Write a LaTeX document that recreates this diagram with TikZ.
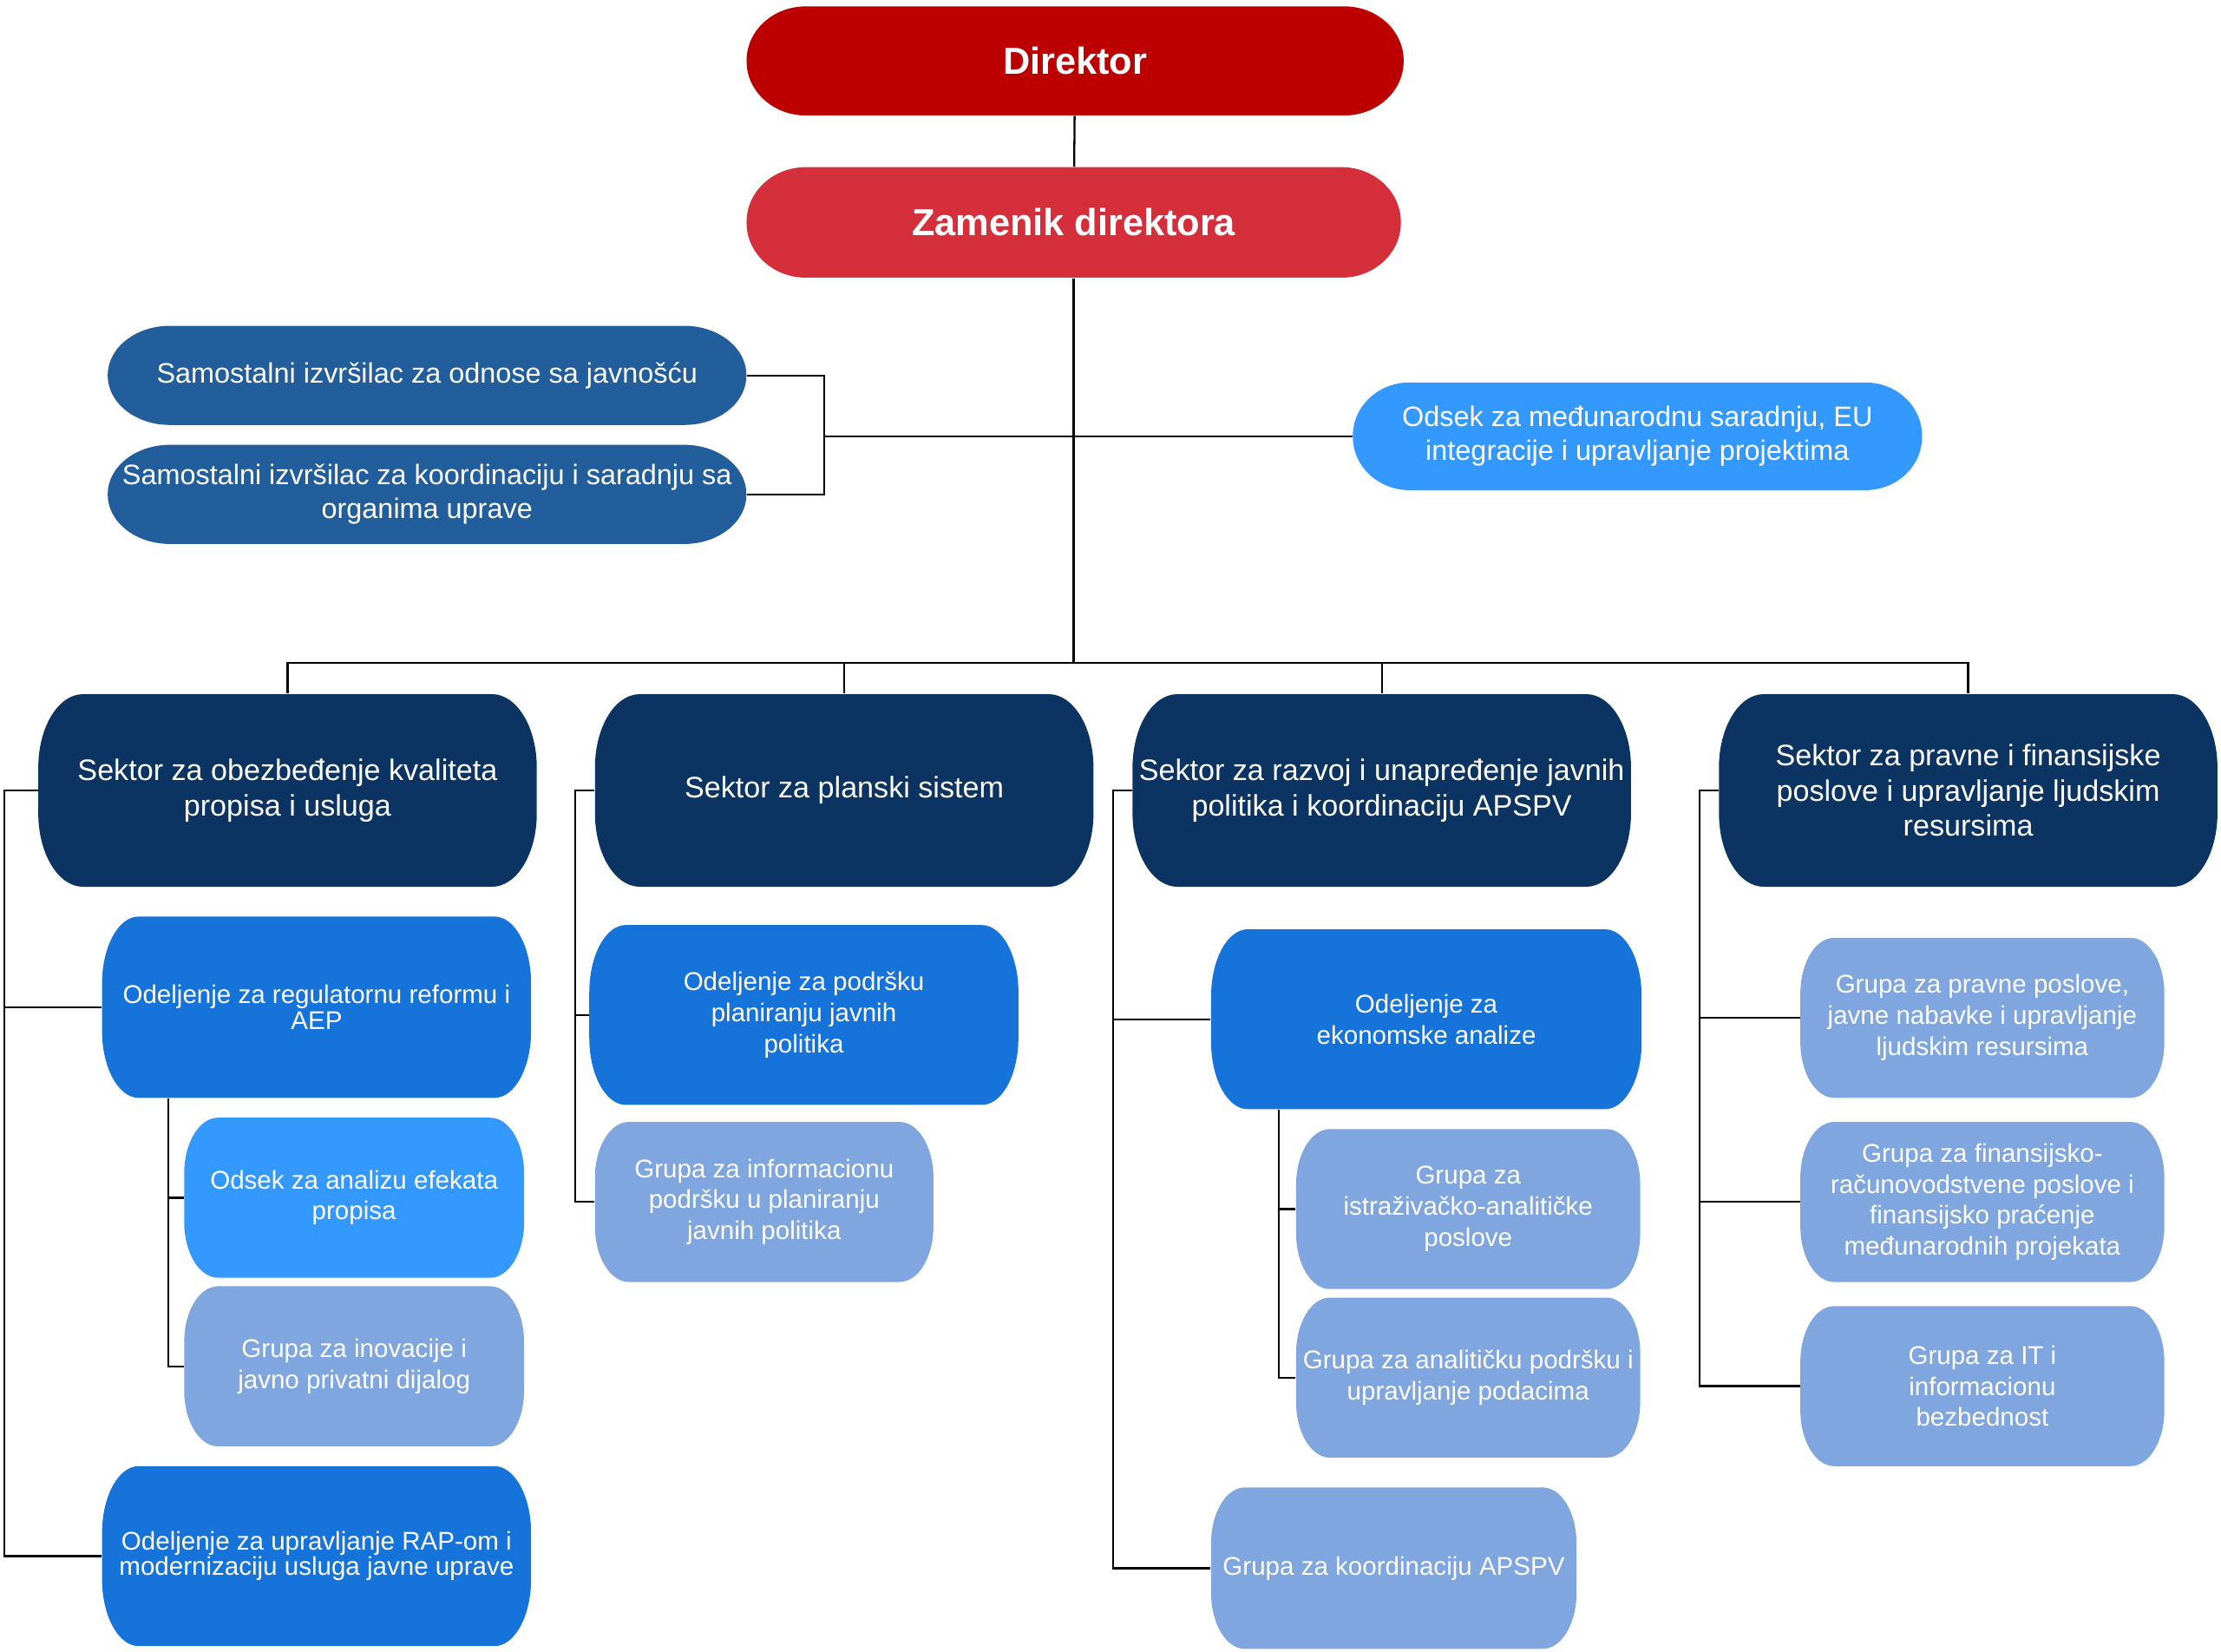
\documentclass[tikz,border=0pt]{standalone}
\usepackage{fontspec}
\setmainfont{Liberation Sans}
\usetikzlibrary{calc}
\definecolor{dirred}{HTML}{BC0000}
\definecolor{zamred}{HTML}{D52F3B}
\definecolor{samblue}{HTML}{215E9B}
\definecolor{skyblue}{HTML}{3399FF}
\definecolor{navy}{HTML}{0C3463}
\definecolor{midblue}{HTML}{1673D9}
\definecolor{paleblue}{HTML}{7FA6DF}
\begin{document}
\begin{tikzpicture}[x=0.02cm,y=-0.02cm,
    pill/.style n args={3}{path picture={
      \fill[#1] let \p1=(path picture bounding box.south west),
                    \p2=(path picture bounding box.north east) in
        (\x1,\y1+#3) -- (\x1,\y2-#3)
        arc[start angle=180, end angle=90, x radius=#2, y radius=#3] -- (\x2-#2,\y2)
        arc[start angle=90, end angle=0, x radius=#2, y radius=#3] -- (\x2,\y1+#3)
        arc[start angle=0, end angle=-90, x radius=#2, y radius=#3] -- (\x1+#2,\y1)
        arc[start angle=270, end angle=180, x radius=#2, y radius=#3] -- cycle;}},
    box/.style={text=white, align=center, inner sep=0pt},
    headbox/.style={box, font=\fontsize{15.1}{17}\selectfont\bfseries},
    sidebox/.style={box, font=\fontsize{11.3}{13.6}\selectfont},
    sectorbox/.style={box, pill={navy}{18pt}{29.5pt}, minimum width=7.04cm, minimum height=2.72cm, font=\fontsize{11.9}{14.2}\selectfont},
    deptbox/.style={box, pill={#1}{14.7pt}{27pt}, font=\fontsize{10.3}{12.5}\selectfont},
    groupbox/.style={box, pill={#1}{13.6pt}{22.4pt}, font=\fontsize{10.3}{12.5}\selectfont},
    tight/.style={font=\fontsize{10.3}{10.3}\selectfont},
    conn/.style={line width=0.8pt}]
%    \draw[help lines] (0,0) grid[step=100] (1568,1166);
    \useasboundingbox (0,0) rectangle (1568,1166);

    \node[headbox, pill={dirred}{23.8pt}{21.8pt}, minimum width=9.28cm, minimum height=1.54cm] (direktor) at (759,43) {Direktor};
    \node[headbox, pill={zamred}{23.8pt}{22pt}, minimum width=9.24cm, minimum height=1.56cm] (zamenik)  at (758,157) {Zamenik direktora};

    \node[sidebox, pill={samblue}{25pt}{19.8pt}, minimum width=9.02cm, minimum height=1.4cm] (javnost)  at (301.5,265) {Samostalni izvršilac za odnose sa javnošću};
    \node[sidebox, pill={samblue}{25pt}{19.8pt}, minimum width=9.02cm, minimum height=1.4cm] (koordin)  at (301.5,349) {Samostalni izvršilac za koordinaciju i saradnju sa\\organima uprave};
    \node[sidebox, pill={skyblue}{22.7pt}{21.5pt}, minimum width=8.04cm, minimum height=1.52cm] (odsek-eu) at (1156,308) {Odsek za međunarodnu saradnju, EU\\integracije i upravljanje projektima};

    \node[sectorbox] (sektor-kval)  at (203,558)    {Sektor za obezbeđenje kvaliteta\\propisa i usluga};
    \node[sectorbox] (sektor-plan)  at (596,558)    {Sektor za planski sistem};
    \node[sectorbox] (sektor-razv)  at (975.5,558)  {Sektor za razvoj i unapređenje javnih\\politika i koordinaciju APSPV};
    \node[sectorbox] (sektor-prav)  at (1389.5,558) {Sektor za pravne i finansijske\\poslove i upravljanje ljudskim\\resursima};

    \node[deptbox=midblue, tight, minimum width=6.06cm, minimum height=2.56cm] (od-reform) at (223.5,711)  {Odeljenje za regulatornu reformu i\\AEP};
    \node[groupbox=skyblue,  minimum width=4.8cm,  minimum height=2.26cm] (os-efekti) at (250,845.5)  {Odsek za analizu efekata\\propisa};
    \node[groupbox=paleblue, minimum width=4.8cm,  minimum height=2.26cm] (gr-inov)   at (250,964.5)  {Grupa za inovacije i\\javno privatni dijalog};
    \node[deptbox=midblue, tight, minimum width=6.06cm, minimum height=2.54cm] (od-rap)    at (223.5,1098.5) {Odeljenje za upravljanje RAP-om i\\modernizaciju usluga javne uprave};

    \node[deptbox=midblue,   minimum width=6.06cm, minimum height=2.54cm] (od-plan)   at (567.5,716.5) {Odeljenje za podršku\\planiranju javnih\\politika};
    \node[groupbox=paleblue, minimum width=4.78cm, minimum height=2.26cm] (gr-info)   at (539.5,848.5) {Grupa za informacionu\\podršku u planiranju\\javnih politika};

    \node[deptbox=midblue,   minimum width=6.08cm, minimum height=2.54cm] (od-ekon)   at (1007,719.5)  {Odeljenje za\\ekonomske analize};
    \node[groupbox=paleblue, minimum width=4.86cm, minimum height=2.26cm] (gr-istr)   at (1036.5,853.5) {Grupa za\\istraživačko-analitičke\\poslove};
    \node[groupbox=paleblue, minimum width=4.86cm, minimum height=2.26cm] (gr-podaci) at (1036.5,972.5) {Grupa za analitičku podršku i\\upravljanje podacima};
    \node[groupbox=paleblue, minimum width=5.16cm, minimum height=2.28cm] (gr-apspv)  at (984,1107)    {Grupa za koordinaciju APSPV};

    \node[groupbox=paleblue, minimum width=5.14cm, minimum height=2.26cm] (gr-pravne) at (1399.5,718.5) {Grupa za pravne poslove,\\javne nabavke i upravljanje\\ljudskim resursima};
    \node[groupbox=paleblue, minimum width=5.14cm, minimum height=2.26cm] (gr-fin)    at (1399.5,848.5) {Grupa za finansijsko-\\računovodstvene poslove i\\finansijsko praćenje\\međunarodnih projekata};
    \node[groupbox=paleblue, minimum width=5.14cm, minimum height=2.26cm] (gr-it)     at (1399.5,978.5) {Grupa za IT i\\informacionu\\bezbednost};

    \coordinate (bus)     at (759,468);
    \coordinate (bracket) at (582,308);
    \coordinate (rail-kval)  at (3,0);
    \coordinate (rail-ref)   at (119,0);
    \coordinate (rail-plan)  at (406,0);
    \coordinate (rail-razv)  at (786,0);
    \coordinate (rail-ekon)  at (903,0);
    \coordinate (rail-prav)  at (1200,0);

    \draw[conn] (direktor) -- (zamenik);
    \draw[conn] (zamenik.south) -- (zamenik.south |- bus);
    \draw[conn] (sektor-kval.north) |- (bus) -| (sektor-prav.north);
    \draw[conn] (sektor-plan.north) -- (sektor-plan.north |- bus);
    \draw[conn] (sektor-razv.north) -- (sektor-razv.north |- bus);

    \draw[conn] (javnost.east) -| (bracket) |- (koordin.east);
    \draw[conn] (bracket) -- (odsek-eu.west);

    \draw[conn] (sektor-kval.west) -| (rail-kval |- od-rap.west) -- (od-rap.west);
    \draw[conn] (rail-kval |- od-reform.west) -- (od-reform.west);
    \draw[conn] (od-reform.south -| rail-ref) |- (gr-inov.west);
    \draw[conn] (rail-ref |- os-efekti.west) -- (os-efekti.west);

    \draw[conn] (sektor-plan.west) -| (rail-plan |- gr-info.west) -- (gr-info.west);
    \draw[conn] (rail-plan |- od-plan.west) -- (od-plan.west);

    \draw[conn] (sektor-razv.west) -| (rail-razv |- gr-apspv.west) -- (gr-apspv.west);
    \draw[conn] (rail-razv |- od-ekon.west) -- (od-ekon.west);
    \draw[conn] (od-ekon.south -| rail-ekon) |- (gr-podaci.west);
    \draw[conn] (rail-ekon |- gr-istr.west) -- (gr-istr.west);

    \draw[conn] (sektor-prav.west) -| (rail-prav |- gr-it.west) -- (gr-it.west);
    \draw[conn] (rail-prav |- gr-pravne.west) -- (gr-pravne.west);
    \draw[conn] (rail-prav |- gr-fin.west) -- (gr-fin.west);
\end{tikzpicture}
\end{document}
